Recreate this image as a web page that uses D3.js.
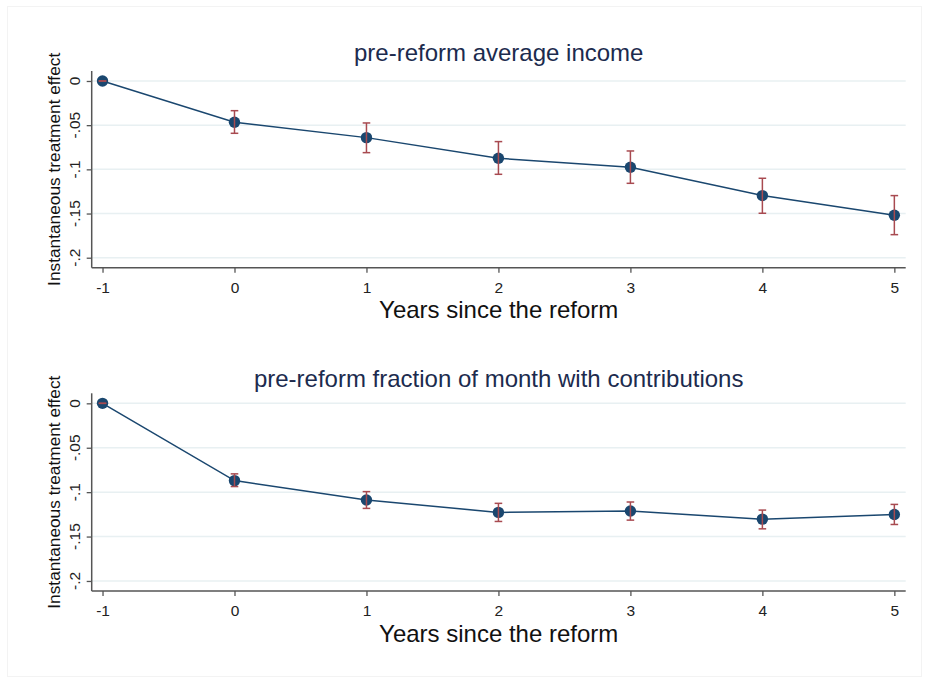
<!DOCTYPE html>
<html>
<head>
<meta charset="utf-8">
<script src="https://cdn.jsdelivr.net/npm/d3@7"></script>
<style>
  html, body { margin: 0; padding: 0; background: #ffffff; }
  svg text { font-family: Arial, "Liberation Sans", Helvetica, sans-serif; }
</style>
</head>
<body>
<svg id="chart" width="929" height="679"></svg>
<script>
// Event-study estimates: years relative to the reform
const years = [-1, 0, 1, 2, 3, 4, 5];

// Panel 1: pre-reform average income
const incomeEst = [0, -0.0467, -0.0641, -0.0875, -0.0977, -0.1297, -0.1520];
const incomeLo  = [0, -0.0592, -0.0811, -0.1056, -0.1158, -0.1497, -0.1739];
const incomeHi  = [0, -0.0336, -0.0475, -0.0686, -0.0792, -0.1101, -0.1297];

// Panel 2: pre-reform fraction of month with contributions
const contribEst = [0, -0.0870, -0.1088, -0.1228, -0.1213, -0.1304, -0.1251];
const contribLo  = [0, -0.0937, -0.1183, -0.1330, -0.1315, -0.1413, -0.1364];
const contribHi  = [0, -0.0794, -0.0994, -0.1126, -0.1111, -0.1202, -0.1138];

const yTicks = [0, -0.05, -0.1, -0.15, -0.2];
const yTickLabels = ["0", "-.05", "-.1", "-.15", "-.2"];
const xTickLabels = ["-1", "0", "1", "2", "3", "4", "5"];

const panelTitles = ["pre-reform average income", "pre-reform fraction of month with contributions"];
const xTitle = "Years since the reform";
const yTitle = "Instantaneous treatment effect";

const svg = d3.select("#chart");

// faint outer frame of the graph region
svg.append("rect")
  .attr("x", 7.5).attr("y", 6.5)
  .attr("width", 914).attr("height", 670)
  .attr("fill", "#ffffff")
  .attr("stroke", "#f3f3f3")
  .attr("stroke-width", 1);

const navy = "#1a476f";
const maroon = "#a84a50";
const grid = "#e8f0f2";
const axisCol = "#555555";

const panels = [
  { top: 71, bottom: 267.7, est: incomeEst, lo: incomeLo, hi: incomeHi, title: panelTitles[0], titleY: 61 },
  { top: 393.3, bottom: 591, est: contribEst, lo: contribLo, hi: contribHi, title: panelTitles[1], titleY: 386.5 }
];

const left = 91.7, right = 905.7;

panels.forEach(p => {
  const g = svg.append("g");
  const x = d3.scaleLinear().domain([-1.082, 5.086]).range([left, right]);
  const y = d3.scaleLinear().domain([-0.2113, 0.0113]).range([p.bottom, p.top]);

  // horizontal gridlines
  g.selectAll(".grid").data(yTicks).join("line")
    .attr("x1", left).attr("x2", right)
    .attr("y1", d => y(d)).attr("y2", d => y(d))
    .attr("stroke", grid).attr("stroke-width", 1.5);

  // y axis
  const yAxis = d3.axisLeft(y).tickValues(yTicks).tickSize(5).tickFormat("");
  const yg = g.append("g").attr("transform", `translate(${left},0)`).call(yAxis);
  yg.select(".domain").remove();
  yg.selectAll(".tick line").attr("stroke", axisCol).attr("stroke-width", 1.3);
  g.append("line").attr("x1", left).attr("x2", left).attr("y1", p.top).attr("y2", p.bottom)
    .attr("stroke", axisCol).attr("stroke-width", 1.5);

  // rotated y tick labels
  g.selectAll(".ylab").data(yTicks).join("text")
    .attr("transform", (d) => `translate(${left - 11.5},${y(d)}) rotate(-90)`)
    .attr("text-anchor", "middle")
    .attr("font-size", 15.5)
    .attr("fill", "#222")
    .text((d, i) => yTickLabels[i]);

  // x axis
  const xAxis = d3.axisBottom(x).tickValues(years).tickSize(5).tickPadding(9)
    .tickFormat((d, i) => xTickLabels[i]);
  const xg = g.append("g").attr("transform", `translate(0,${p.bottom})`).call(xAxis);
  xg.select(".domain").remove();
  xg.selectAll(".tick line").attr("stroke", axisCol).attr("stroke-width", 1.3);
  xg.selectAll(".tick text").attr("font-size", 15.5).attr("fill", "#222")
    .style("font-family", "Arial, 'Liberation Sans', sans-serif");
  g.append("line").attr("x1", left).attr("x2", right).attr("y1", p.bottom).attr("y2", p.bottom)
    .attr("stroke", axisCol).attr("stroke-width", 1.5);

  // connecting line
  const pts = years.map((yr, i) => ({ yr, v: p.est[i], lo: p.lo[i], hi: p.hi[i] }));
  g.append("path").datum(pts)
    .attr("d", d3.line().x(d => x(d.yr)).y(d => y(d.v)))
    .attr("fill", "none").attr("stroke", navy).attr("stroke-width", 1.5);

  // point markers
  g.selectAll(".pt").data(pts).join("circle")
    .attr("cx", d => x(d.yr)).attr("cy", d => y(d.v))
    .attr("r", 5.7).attr("fill", navy);

  // confidence intervals with caps, drawn over markers
  const ci = g.selectAll(".ci").data(pts).join("g");
  ci.append("line")
    .attr("x1", d => x(d.yr)).attr("x2", d => x(d.yr))
    .attr("y1", d => y(d.lo)).attr("y2", d => y(d.hi))
    .attr("stroke", maroon).attr("stroke-width", 1.5);
  ci.append("line")
    .attr("x1", d => x(d.yr) - 3.8).attr("x2", d => x(d.yr) + 3.8)
    .attr("y1", d => y(d.lo)).attr("y2", d => y(d.lo))
    .attr("stroke", maroon).attr("stroke-width", 1.5);
  ci.append("line")
    .attr("x1", d => x(d.yr) - 3.8).attr("x2", d => x(d.yr) + 3.8)
    .attr("y1", d => y(d.hi)).attr("y2", d => y(d.hi))
    .attr("stroke", maroon).attr("stroke-width", 1.5);

  // panel title
  g.append("text")
    .attr("x", (left + right) / 2).attr("y", p.titleY)
    .attr("text-anchor", "middle")
    .attr("font-size", 24)
    .attr("fill", "#1c2b4e")
    .text(p.title);

  // x axis title
  g.append("text")
    .attr("x", (left + right) / 2).attr("y", p.bottom + 50.6)
    .attr("text-anchor", "middle")
    .attr("font-size", 24)
    .attr("fill", "#111")
    .text(xTitle);

  // y axis title
  g.append("text")
    .attr("transform", `translate(60,${(p.top + p.bottom) / 2}) rotate(-90)`)
    .attr("text-anchor", "middle")
    .attr("font-size", 17.3)
    .attr("fill", "#111")
    .text(yTitle);
});
</script>
</body>
</html>
